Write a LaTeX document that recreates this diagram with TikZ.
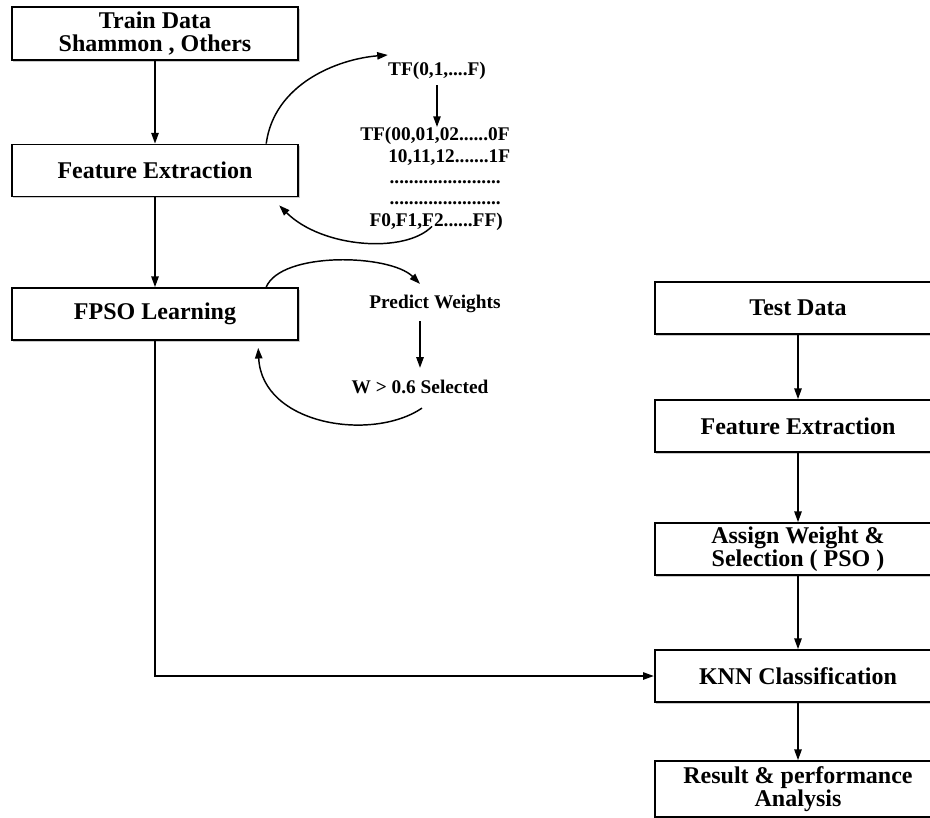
\documentclass[tikz,border=0pt]{standalone}
\usepackage{fontspec}
\setmainfont{Liberation Serif}
\usetikzlibrary{arrows.meta,shadows,calc}
\begin{document}
\begin{tikzpicture}[x=0.75pt,y=-0.75pt,
  box/.style={draw, line width=1.3pt, fill=white, minimum width=215pt, minimum height=39pt,
    align=center, inner sep=0pt, font=\bfseries\fontsize{18}{17}\selectfont,
    drop shadow={shadow xshift=1.3pt, shadow yshift=-1.3pt, opacity=0.35, fill=black!60}},
  lbl/.style={font=\bfseries\fontsize{14.5}{16}\selectfont, inner sep=0pt},
  arr/.style={line width=1.1pt, -{Triangle[length=8pt,width=5.5pt]}}
]
\useasboundingbox (0,0) rectangle (930,817);
\clip (0,0) rectangle (930,817);

% left column
\node[box, minimum height=39.75pt] (train) at (155,33.5) {Train Data\\Shammon , Others};
\node[box] (fe1) at (155,170.5) {Feature Extraction};
\node[box] (fpso) at (155,314) {FPSO Learning};

% right column
\node[box] (test) at (798,308) {Test Data};
\node[box] (fe2) at (798,426) {Feature Extraction};
\node[box] (assign) at (798,549) {Assign Weight \&\\Selection ( PSO )};
\node[box] (knn) at (798,676) {KNN Classification};
\node[box, minimum height=42pt] (result) at (798,789) {Result \& performance\\Analysis};

% side labels
\node[lbl] (tf1) at (437,71) {TF(0,1,....F)};
\node[lbl, align=left, anchor=north west] (tf2) at (360,127)
  {TF(00,01,02......0F\\\hspace*{21pt}10,11,12.......1F\\\hspace*{22pt}.......................\\\hspace*{22pt}.......................\\\hspace*{7pt}F0,F1,F2......FF)};
\node[lbl] (pw) at (435,304) {Predict Weights};
\node[lbl] (sel) at (420,387) {W > 0.6 Selected};

% main flow
\draw[arr] (train) -- (fe1);
\draw[arr] (fe1) -- (fpso);
\draw[arr] (fpso.south) |- (knn.west);
\draw[arr] (test) -- (fe2);
\draw[arr] (fe2) -- (assign);
\draw[arr] (assign) -- (knn);
\draw[arr] (knn) -- (result);

% feature extraction loop
\draw[arr] ($(fe1.north east)+(-33,0)$) .. controls +(8,-60) and +(-50,4) .. ($(tf1.west)+(0,-16)$);
\draw[arr, shorten <=4pt] (tf1.south) -- (tf1.south |- tf2.north);
\draw[arr] ($(tf2.south west)+(72,-4)$) .. controls (405,254) and (322,248) .. ($(fe1.south east)+(-20,8)$);

% FPSO loop
\draw[arr] ($(fpso.north east)+(-33,0)$) .. controls +(15,-36) and +(-30,-30) .. ($(pw.north)+(-15,-11)$);
\draw[arr, shorten <=6pt, shorten >=9pt] (sel.north |- pw.south) -- (sel.north);
\draw[arr] ($(sel.south)+(2,14)$) .. controls (372,442) and (262,425) .. ($(fpso.south east)+(-41,7)$);
\end{tikzpicture}
\end{document}
